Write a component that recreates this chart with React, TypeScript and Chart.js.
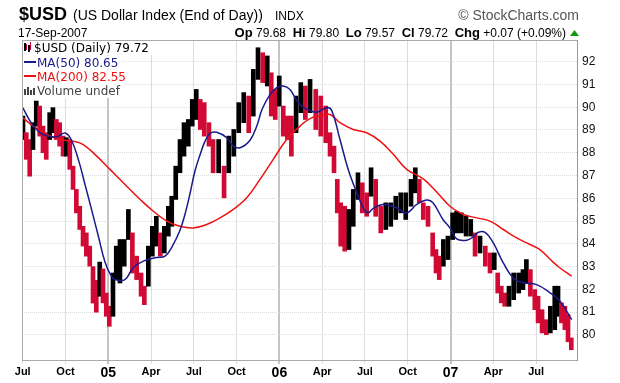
import { useEffect, useRef } from 'react';
import { Chart, registerables } from 'chart.js';
Chart.register(...registerables);

// x values are months since 1-Jul-2004
const binX = [0.02,0.25,0.49,0.72,0.95,1.19,1.42,1.65,1.89,2.12,2.36,2.59,2.83,3.06,3.30,3.53,3.76,4.00,4.23,4.46,4.70,4.93,5.16,5.40,5.63,5.86,6.07,6.33,6.56,6.82,7.12,7.41,7.69,7.99,8.30,8.53,8.81,9.09,9.37,9.65,9.93,10.21,10.45,10.73,11.03,11.31,11.61,11.89,12.17,12.45,12.73,13.06,13.35,13.74,14.12,14.45,14.80,15.15,15.50,15.85,16.17,16.50,16.83,17.15,17.43,17.71,17.99,18.27,18.56,18.84,19.17,19.50,19.82,20.15,20.55,20.90,21.25,21.55,21.83,22.06,22.30,22.58,22.88,23.18,23.51,23.81,24.12,24.43,24.75,25.11,25.46,25.81,26.16,26.51,26.86,27.23,27.53,27.81,28.09,28.42,28.75,28.98,29.21,29.50,29.82,30.15,30.43,30.76,31.09,31.42,31.72,32.07,32.44,32.77,33.07,33.31,33.56,33.80,34.10,34.43,34.78,35.08,35.32,35.60,35.91,36.14,36.42,36.72,37.00,37.31,37.54,37.78,38.02,38.24,38.47];
const binHigh = [89.61,88.88,88.58,89.32,90.27,90.05,89.17,88.88,89.76,89.98,89.46,89.32,88.73,88.66,88.58,87.41,86.39,85.65,84.77,84.48,83.90,83.00,82.40,83.20,82.90,81.84,81.26,82.72,83.90,
84.19,84.19,85.51,84.48,83.46,82.72,82.14,83.90,84.77,85.21,84.48,84.77,85.65,86.09,87.41,88.58,89.32,89.46,90.34,90.78,90.34,90.20,89.32,88.58,
88.58,87.41,88.73,89.02,90.20,90.64,90.49,91.66,92.61,92.39,92.25,91.51,90.78,91.37,90.05,89.61,89.61,90.49,91.08,90.93,91.22,
90.78,90.49,90.05,88.88,88.29,86.83,85.80,85.65,85.51,86.39,87.12,86.68,86.24,87.34,86.83,85.65,85.80,85.80,86.09,86.24,86.24,
86.83,87.34,86.83,85.80,85.65,84.48,83.75,83.46,84.19,84.34,85.36,85.43,85.36,85.21,85.07,84.48,84.34,83.90,83.60,83.60,82.72,82.14,
81.84,82.14,82.72,82.72,82.87,83.31,82.87,81.99,81.70,81.11,80.67,81.26,82.14,82.14,81.41,81.26,80.90,79.87];
const binLow = [88.58,87.71,86.97,88.14,89.17,88.73,88.00,87.71,88.58,88.88,88.58,88.29,87.85,87.85,87.27,86.39,85.36,84.63,83.90,83.46,83.02,81.40,81.00,81.70,81.41,80.82,80.38,80.82,82.43,
82.28,83.02,84.19,82.72,82.43,81.70,81.33,82.14,83.46,83.90,83.46,83.60,84.34,84.77,85.95,87.12,87.85,88.29,89.17,89.46,89.02,88.73,88.29,87.12,
87.12,86.02,87.12,87.85,88.88,89.32,88.88,89.61,91.22,91.08,90.93,89.61,89.46,90.05,88.73,88.58,87.85,88.88,89.76,89.46,89.76,
89.02,88.73,88.44,87.85,87.12,85.36,83.90,83.68,83.75,84.77,85.95,85.36,85.21,86.09,85.21,84.48,84.63,84.77,85.07,85.36,85.07,
85.65,86.24,85.80,85.07,84.77,83.46,82.72,82.43,83.02,83.31,84.19,84.48,84.48,84.34,84.34,83.46,83.60,83.02,82.72,82.87,81.84,81.41,
81.26,81.26,81.55,81.84,81.99,82.28,81.70,81.11,80.53,80.09,80.01,80.09,80.23,80.82,80.53,80.23,79.70,79.35];

const ma50X = [0,0.72,1.44,2.38,2.97,3.42,3.95,4.37,4.79,5.28,5.77,6.19,6.47,7.17,7.76,8.46,9.40,9.98,10.45,11.03,11.38,11.73,12.08,12.43,12.78,13.13,13.60,14.31,14.77,15.24,15.94,16.43,16.78,17.34,17.81,18.27,18.74,19.21,19.68,20.15,20.62,21.32,21.67,22.25,22.81,23.42,23.88,24.21,24.56,25.26,26.23,26.93,27.63,28.33,28.77,29.47,29.96,30.43,31.14,31.60,31.93,32.42,33.00,33.70,34.40,35.10,36.04,36.98,37.68,38.50];
const ma50Y = [89.98,89.2,88.8,88.7,88.87,88.55,87.6,86.6,85.6,84.4,83.2,82.6,82.43,82.43,82.96,83.24,83.4,83.46,83.85,84.6,85.3,86.2,87.2,87.9,88.5,88.85,88.9,88.66,88.29,88.22,88.55,89.2,89.9,90.55,90.86,90.93,90.78,90.3,90.0,89.85,89.78,89.98,89.85,88.58,87.3,86.25,85.58,85.36,85.55,85.73,85.58,85.36,85.73,85.92,85.8,85.07,84.7,84.22,84.16,84.31,84.5,84.5,84.04,83.16,82.5,82.29,82.21,81.85,81.48,80.67];

const ma200X = [0,0.74,1.68,2.62,3.55,4.25,5.19,6.12,7.29,8.23,9.16,10.10,11.03,11.96,12.90,13.84,14.77,15.71,16.64,17.57,18.51,19.45,20.15,20.85,21.55,22.25,23.18,24.12,25.06,25.99,26.93,28.09,29.03,29.96,30.90,31.84,32.77,33.70,34.64,35.57,36.27,37.00,37.68,38.50];
const ma200Y = [89.54,89.17,88.8,88.58,88.51,88.36,87.85,87.27,86.53,85.95,85.43,85.0,84.77,84.70,84.85,85.14,85.51,86.02,86.83,87.71,88.58,89.17,89.5,89.61,89.68,89.32,89.02,88.88,88.51,87.93,87.27,86.85,86.28,85.65,85.29,85.14,85.0,84.63,84.26,83.97,83.75,83.31,82.94,82.58];

const tickMonths = [0,3,6,9,12,15,18,21,24,27,30,33,36];
const tickLabels = ['Jul','Oct','05','Apr','Jul','Oct','06','Apr','Jul','Oct','07','Apr','Jul'];
const yTicks = [80,81,82,83,84,85,86,87,88,89,90,91,92];

const FONT = '"Liberation Sans", Arial, sans-serif';
const LFONT = '"DejaVu Sans", Verdana, sans-serif';

const headerPlugin = {
  id: 'header',
  afterDraw(chart: any) {
    const ctx = chart.ctx;
    const a = chart.chartArea;
    ctx.save();
    ctx.strokeStyle = '#aaaaaa';
    ctx.lineWidth = 1;
    ctx.beginPath();
    ctx.moveTo(a.left + 0.5, a.top);
    ctx.lineTo(a.left + 0.5, a.bottom);
    ctx.moveTo(a.left, a.top + 0.5);
    ctx.lineTo(a.right, a.top + 0.5);
    ctx.stroke();

    ctx.textBaseline = 'alphabetic';
    ctx.fillStyle = '#000';
    ctx.font = `bold 18px ${FONT}`;
    ctx.fillText('$USD', 19, 20);
    ctx.font = `14px ${FONT}`;
    ctx.fillText('(US Dollar Index (End of Day))', 73, 20);
    ctx.font = `12px ${FONT}`;
    ctx.fillText('INDX', 275, 20);
    ctx.fillStyle = '#555';
    ctx.font = `14px ${FONT}`;
    ctx.textAlign = 'right';
    ctx.fillText('\u00A9 StockCharts.com', 579, 20);
    ctx.textAlign = 'left';

    ctx.fillStyle = '#000';
    ctx.font = `12px ${FONT}`;
    ctx.fillText('17-Sep-2007', 18, 37);
    const segs: [string, boolean][] = [
      ['Op', true], [' 79.68  ', false], ['Hi', true], [' 79.80  ', false], ['Lo', true], [' 79.57  ', false],
      ['Cl', true], [' 79.72  ', false], ['Chg', true], [' +0.07 (+0.09%)', false],
    ];
    let total = 0;
    for (const [t, b] of segs) { ctx.font = b ? `bold 13px ${FONT}` : `12px ${FONT}`; total += ctx.measureText(t).width; }
    let x = 566 - total;
    for (const [t, b] of segs) { ctx.font = b ? `bold 13px ${FONT}` : `12px ${FONT}`; ctx.fillText(t, x, 37); x += ctx.measureText(t).width; }
    ctx.fillStyle = '#119911';
    ctx.beginPath();
    ctx.moveTo(570, 36); ctx.lineTo(579, 36); ctx.lineTo(574.5, 30); ctx.closePath(); ctx.fill();

    const lines: [string, string][] = [
      ['$USD (Daily) 79.72', '#000'], ['MA(50) 80.65', '#1a1a8c'], ['MA(200) 82.55', '#ee1111'], ['Volume undef', '#444'],
    ];
    const base = [52, 66.5, 81, 95];
    ctx.font = `12px ${LFONT}`;
    lines.forEach(([t, c], i) => {
      const tx = i === 0 ? 34 : 37;
      const w = ctx.measureText(t).width;
      ctx.fillStyle = '#fff';
      ctx.fillRect(a.left + 1, base[i] - 11, tx + w + 2 - a.left, 14);
      ctx.fillStyle = c;
      ctx.fillText(t, tx, base[i]);
    });
    ctx.fillStyle = '#000';
    ctx.fillRect(24, 43, 2, 8); ctx.fillRect(28, 45, 2, 7);
    ctx.fillStyle = '#cc0033';
    ctx.fillRect(26, 44, 1, 6); ctx.fillRect(30, 42, 1, 8);
    ctx.fillStyle = '#1a1a8c'; ctx.fillRect(24, 61, 12, 2);
    ctx.fillStyle = '#ee1111'; ctx.fillRect(24, 75, 12, 2);
    ctx.fillStyle = '#444';
    ctx.fillRect(24, 89, 2, 6); ctx.fillRect(27, 87, 2, 8); ctx.fillRect(30, 90, 2, 5); ctx.fillRect(33, 88, 2, 7);
    ctx.restore();
  },
};

export default function App() {
  const ref = useRef<HTMLCanvasElement | null>(null);
  useEffect(() => {
    document.body.style.margin = '0';
    const bars = binX.map((x, i) => ({ x, y: [binLow[i], binHigh[i]] }));
    const colors = binX.map((_, i) => {
      if (i === 0) return '#000';
      const m = (binHigh[i] + binLow[i]) / 2;
      const p = (binHigh[i - 1] + binLow[i - 1]) / 2;
      return m < p - 0.15 ? '#d10a35' : '#000';
    });
    const m50 = ma50X.map((x, i) => ({ x, y: ma50Y[i] })).filter((p) => p.y !== undefined);
    const m200 = ma200X.map((x, i) => ({ x, y: ma200Y[i] })).filter((p) => p.y !== undefined);
    const chart = new Chart(ref.current as HTMLCanvasElement, {
      type: 'bar',
      data: {
        datasets: [
          { type: 'line', data: m50, borderColor: '#1a1a8c', borderWidth: 1.5, pointRadius: 0, tension: 0.4, order: 0 } as any,
          { type: 'line', data: m200, borderColor: '#ee1111', borderWidth: 1.5, pointRadius: 0, tension: 0.4, order: 0 } as any,
          { type: 'bar', data: bars as any, backgroundColor: colors, barThickness: 4, order: 1 } as any,
        ],
      },
      plugins: [headerPlugin],
      options: {
        animation: false,
        responsive: false,
        layout: { padding: { left: 22, top: 40, right: 0, bottom: 0 } },
        plugins: { legend: { display: false }, tooltip: { enabled: false } },
        scales: {
          x: {
            type: 'linear',
            offset: false,
            min: -0.05,
            max: 38.87,
            afterFit: (s: any) => { s.height = 23; },
            afterBuildTicks: (s: any) => { s.ticks = tickMonths.map((v) => ({ value: v })); },
            grid: {
              offset: false,
              color: (c: any) => (c.tick && c.tick.value % 12 === 6 ? '#c4c4c4' : '#dddddd'),
              lineWidth: (c: any) => (c.tick && c.tick.value % 12 === 6 ? 2 : 1),
              tickLength: 4,
            },
            border: { color: '#aaaaaa' },
            ticks: {
              autoSkip: false,
              maxRotation: 0,
              padding: 1,
              color: '#000',
              font: (c: any) => ({ family: FONT, weight: 'bold', size: c.tick && c.tick.value % 12 === 6 ? 14 : 11 }),
              callback: (v: any) => { const i = tickMonths.indexOf(Number(v)); return i >= 0 ? tickLabels[i] : ''; },
            },
          },
          y: {
            position: 'right',
            min: 78.9,
            max: 92.95,
            afterFit: (s: any) => { s.width = 43; },
            afterBuildTicks: (s: any) => { s.ticks = yTicks.map((v) => ({ value: v })); },
            grid: { color: '#dddddd', drawTicks: false },
            border: { color: '#999999', dash: [1, 1] },
            ticks: { padding: 5, color: '#111', font: { family: FONT, size: 12 }, callback: (v: any) => String(v) },
          },
        },
      },
    });
    return () => chart.destroy();
  }, []);
  return <canvas ref={ref} width={620} height={383} style={{ display: 'block', width: 620, height: 383 }} />;
}
